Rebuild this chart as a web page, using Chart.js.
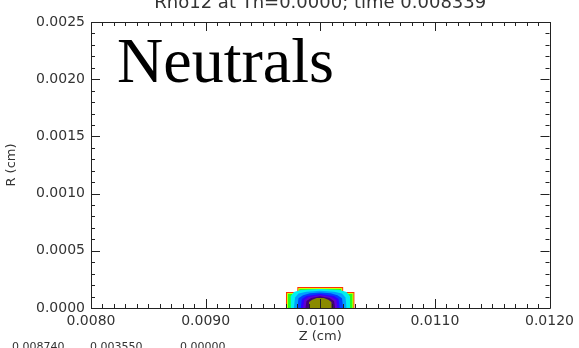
<!DOCTYPE html>
<html>
<head>
<meta charset="utf-8">
<script src="https://cdn.jsdelivr.net/npm/chart.js@4/dist/chart.umd.min.js"></script>
<style>
  html, body { margin: 0; padding: 0; background: #fff; }
  #wrap { width: 579px; height: 348px; }
</style>
</head>
<body>
<div id="wrap"><canvas id="c" width="579" height="348"></canvas></div>
<script>
// texto do gráfico
const plotTitle = "Rho12 at Th=0.0000; time 0.008339";
const overlayLabel = "Neutrals";
const footerValues = ["0.008740", "0.003550", "0.00000"];

// eixos
const zTicks = [0.0080, 0.0090, 0.0100, 0.0110, 0.0120];
const rTicks = [0.0000, 0.0005, 0.0010, 0.0015, 0.0020, 0.0025];

// níveis de contorno (de fora para dentro): Z e R da borda superior
const levelNames = ["l1", "l2", "l3", "l4", "l5", "l6", "l7", "l8", "l9", "l10"];
const levelZ = [
  [0.00970, 0.00970, 0.00980, 0.00980, 0.01020, 0.01020, 0.01030, 0.01030],
  [0.009708, 0.009708, 0.009808, 0.009808, 0.010192, 0.010192, 0.010292, 0.010292],
  [0.009718, 0.009718, 0.009818, 0.009818, 0.010182, 0.010182, 0.010282, 0.010282],
  [0.00974, 0.00974, 0.00977, 0.00983, 0.01000, 0.01017, 0.01023, 0.01026, 0.01026],
  [0.00977, 0.00978, 0.00981, 0.00988, 0.01000, 0.01012, 0.01019, 0.01022, 0.01023],
  [0.00980, 0.00981, 0.00985, 0.00991, 0.01000, 0.01009, 0.01015, 0.01019, 0.01020],
  [0.00983, 0.00984, 0.00988, 0.01000, 0.01012, 0.01016, 0.01017],
  [0.00985, 0.00986, 0.00990, 0.01000, 0.01010, 0.01014, 0.01015],
  [0.00987, 0.00988, 0.00992, 0.01000, 0.01008, 0.01012, 0.01013],
  [0.00990, 0.00990, 0.00993, 0.00997, 0.01003, 0.01007, 0.01010, 0.01010]
];
const levelR = [
  [0, 0.000140, 0.000140, 0.000184, 0.000184, 0.000140, 0.000140, 0],
  [0, 0.000131, 0.000131, 0.000175, 0.000175, 0.000131, 0.000131, 0],
  [0, 0.000122, 0.000122, 0.000166, 0.000166, 0.000122, 0.000122, 0],
  [0, 0.000100, 0.000140, 0.000157, 0.000166, 0.000157, 0.000140, 0.000100, 0],
  [0, 0.000092, 0.000126, 0.000142, 0.000151, 0.000142, 0.000126, 0.000092, 0],
  [0, 0.000085, 0.000112, 0.000128, 0.000136, 0.000128, 0.000112, 0.000085, 0],
  [0, 0.000078, 0.000105, 0.000122, 0.000105, 0.000078, 0],
  [0, 0.000070, 0.000096, 0.000112, 0.000096, 0.000070, 0],
  [0, 0.000062, 0.000088, 0.000102, 0.000088, 0.000062, 0],
  [0, 0.000050, 0.000072, 0.000088, 0.000088, 0.000072, 0.000050, 0]
];
const levelColors = ["#ff3000", "#c8ff00", "#20ff20", "#00f0f0", "#00a0ff",
                     "#0040ff", "#3000ff", "#6000d0", "#40007a", "#8a8a00"];

// o de dentro fica por cima (order menor = desenhado por último)
const datasets = levelNames.map((name, i) => ({
  label: name,
  data: levelZ[i].map((z, j) => ({ x: z, y: levelR[i][j] })),
  order: levelNames.length - i,
  borderWidth: 0,
  borderColor: levelColors[i],
  backgroundColor: levelColors[i],
  pointRadius: 0,
  fill: "origin",
  tension: 0
}));

// moldura, marcas internas (estilo IDL) e textos extras
const idlFrame = {
  id: "idlFrame",
  afterDatasetsDraw(chart) {
    const ctx = chart.ctx;
    const a = chart.chartArea;
    const xs = chart.scales.x, ys = chart.scales.y;
    ctx.save();
    ctx.strokeStyle = "#222";
    ctx.lineWidth = 1;
    ctx.beginPath();
    ctx.rect(Math.round(a.left) + 0.5, Math.round(a.top) + 0.5,
             Math.round(a.right - a.left), Math.round(a.bottom - a.top));
    ctx.stroke();

    ctx.beginPath();
    // Z: menores a cada 0.0001
    for (let k = 0; k <= 40; k++) {
      const v = 0.008 + k * 0.0001;
      const px = Math.round(xs.getPixelForValue(v)) + 0.5;
      const len = (k % 10 === 0) ? 9 : 4;
      ctx.moveTo(px, a.bottom); ctx.lineTo(px, a.bottom - len);
      ctx.moveTo(px, a.top); ctx.lineTo(px, a.top + len);
    }
    // R: menores a cada 0.0001
    for (let k = 0; k <= 25; k++) {
      const v = k * 0.0001;
      const py = Math.round(ys.getPixelForValue(v)) + 0.5;
      const len = (k % 5 === 0) ? 9 : 4;
      ctx.moveTo(a.left, py); ctx.lineTo(a.left + len, py);
      ctx.moveTo(a.right, py); ctx.lineTo(a.right - len, py);
    }
    ctx.stroke();

    ctx.fillStyle = "#000";
    ctx.font = "64px 'Liberation Serif'";
    ctx.textBaseline = "alphabetic";
    ctx.textAlign = "left";
    ctx.fillText(overlayLabel, 117, 82);
    ctx.restore();
  },
  afterDraw(chart) {
    const ctx = chart.ctx;
    const a = chart.chartArea;
    ctx.save();
    ctx.fillStyle = "#333";
    ctx.font = "18px 'DejaVu Sans'";
    ctx.textAlign = "center";
    ctx.textBaseline = "alphabetic";
    ctx.fillText(plotTitle, (a.left + a.right) / 2, 8);

    ctx.font = "11px 'DejaVu Sans'";
    ctx.textAlign = "left";
    ctx.textBaseline = "top";
    const fx = [12, 90, 180];
    footerValues.forEach((t, i) => ctx.fillText(t, fx[i], 342));
    ctx.restore();
  }
};

new Chart(document.getElementById("c"), {
  type: "line",
  data: { datasets: datasets },
  options: {
    responsive: false,
    animation: false,
    events: [],
    layout: { padding: { top: 22, right: 25, left: 0, bottom: 0 } },
    plugins: { legend: { display: false }, tooltip: { enabled: false }, title: { display: false } },
    scales: {
      x: {
        type: "linear",
        min: zTicks[0],
        max: zTicks[zTicks.length - 1],
        afterBuildTicks: s => { s.ticks = zTicks.map(v => ({ value: v })); },
        afterFit: s => { s.height = 40; },
        grid: { display: false, drawTicks: false },
        border: { display: false },
        ticks: {
          color: "#333",
          font: { family: "DejaVu Sans", size: 14 },
          padding: 5,
          maxRotation: 0,
          callback: v => v.toFixed(4)
        },
        title: {
          display: true,
          text: "Z (cm)",
          color: "#333",
          font: { family: "DejaVu Sans", size: 13 },
          padding: { top: 0, bottom: 4 }
        }
      },
      y: {
        type: "linear",
        min: rTicks[0],
        max: rTicks[rTicks.length - 1],
        afterBuildTicks: s => { s.ticks = rTicks.map(v => ({ value: v })); },
        afterFit: s => { s.width = 91; },
        grid: { display: false, drawTicks: false },
        border: { display: false },
        ticks: {
          color: "#333",
          font: { family: "DejaVu Sans", size: 14 },
          padding: 6,
          callback: v => v.toFixed(4)
        },
        title: {
          display: true,
          text: "R (cm)",
          color: "#333",
          font: { family: "DejaVu Sans", size: 13 },
          padding: { top: 4, bottom: 0 }
        }
      }
    }
  },
  plugins: [idlFrame]
});
</script>
</body>
</html>
